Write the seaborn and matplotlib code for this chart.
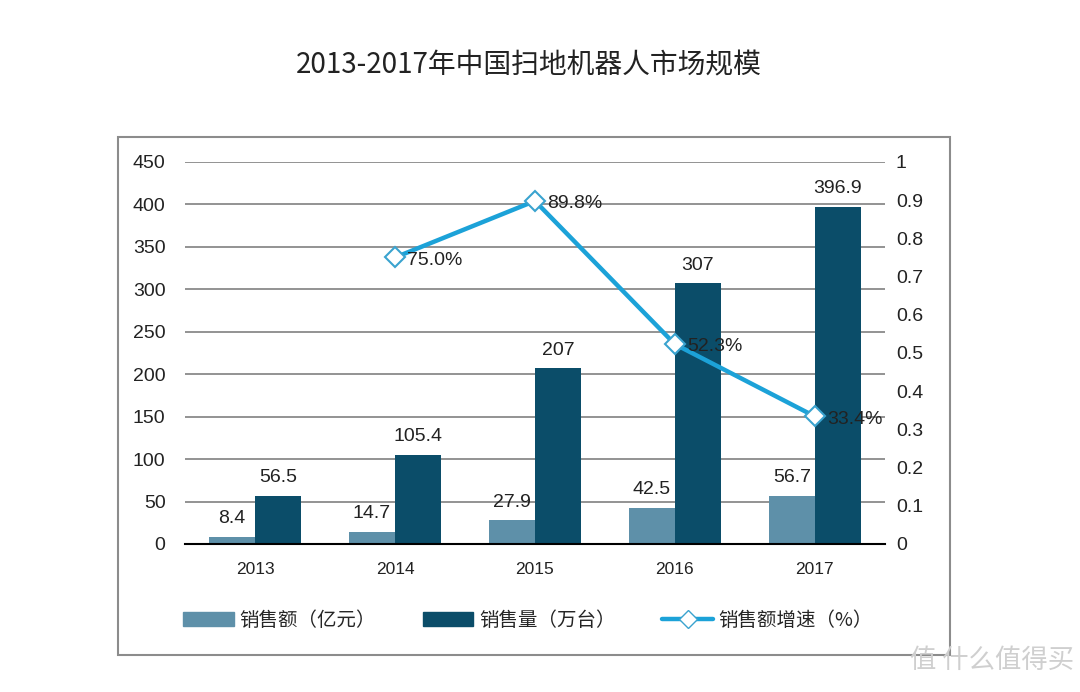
import numpy as np
import pandas as pd
import seaborn as sns
import matplotlib
matplotlib.use('Agg')
import matplotlib.pyplot as plt
from matplotlib.patches import Patch, Rectangle
from matplotlib.lines import Line2D

sns.set_style('white')
plt.rcParams['font.family'] = ['Liberation Sans', 'Noto Sans CJK SC', 'DejaVu Sans']

# data
years = ['2013', '2014', '2015', '2016', '2017']
sales_amount = [8.4, 14.7, 27.9, 42.5, 56.7]       # 销售额（亿元）
sales_volume = [56.5, 105.4, 207, 307, 396.9]      # 销售量（万台）
growth_years = ['2014', '2015', '2016', '2017']
growth_rate = [0.750, 0.898, 0.523, 0.334]         # 销售额增速（%）

series_names = ['销售额（亿元）', '销售量（万台）', '销售额增速（%）']
c_amount = '#5e90a9'
c_volume = '#0b4d69'
c_line = '#1ca2d8'

df = pd.DataFrame({
    'year': years * 2,
    'value': sales_amount + sales_volume,
    'series': [series_names[0]] * len(years) + [series_names[1]] * len(years),
})

fig = plt.figure(figsize=(10.8, 6.92), dpi=100)
ax = fig.add_axes([0.1713, 0.2139, 0.648, 0.552])

sns.barplot(data=df, x='year', y='value', hue='series', palette=[c_amount, c_volume],
            width=0.66, saturation=1, legend=False, linewidth=0, ax=ax)
ax.set_xlim(-0.5, 4.5)
ax.set_ylim(0, 450)
ax.set_yticks(np.arange(0, 451, 50))
ax.set_axisbelow(True)
ax.grid(axis='y', color='#808080', linewidth=1.2)
ax.grid(axis='x', visible=False)
for s in ['left', 'right', 'top']:
    ax.spines[s].set_visible(False)
ax.spines['bottom'].set_color('black')
ax.spines['bottom'].set_linewidth(1.5)
ax.tick_params(axis='y', length=0, pad=14, labelsize=14, labelcolor='#222222')
ax.tick_params(axis='x', length=0, pad=13, labelsize=12.5, labelcolor='#222222')
ax.set_xlabel('')
ax.set_ylabel('')

for cont, vals in zip(ax.containers, [sales_amount, sales_volume]):
    ax.bar_label(cont, labels=['{:g}'.format(v) for v in vals], padding=7,
                 fontsize=14, color='#222222')

ax2 = ax.twinx()
gx = [years.index(y) for y in growth_years]
sns.lineplot(x=gx, y=growth_rate, ax=ax2, color=c_line, linewidth=3.2,
             marker='D', markersize=10, markerfacecolor='white',
             markeredgecolor='#3aa3cf', markeredgewidth=1.5)
ax2.set_ylim(0, 1)
ax2.set_yticks(np.arange(0, 1.01, 0.1))
ax2.set_yticklabels(['0', '0.1', '0.2', '0.3', '0.4', '0.5', '0.6', '0.7', '0.8', '0.9', '1'])
ax2.set_xlim(-0.5, 4.5)
ax2.grid(False)
for s in ['left', 'right', 'top', 'bottom']:
    ax2.spines[s].set_visible(False)
ax2.tick_params(axis='y', length=0, pad=8, labelsize=14, labelcolor='#222222')
for x, v in zip(gx, growth_rate):
    ax2.annotate('{:.1%}'.format(v), (x, v), xytext=(9, -2), textcoords='offset points',
                 ha='left', va='center', fontsize=14, color='#222222')

fig.text(0.49, 0.906, '2013-2017年中国扫地机器人市场规模', ha='center', va='center',
         fontsize=20, color='#222222', family=['Noto Sans CJK SC', 'DejaVu Sans'])

handles = [Patch(color=c_amount), Patch(color=c_volume),
           Line2D([], [], color=c_line, linewidth=3.2, marker='D', markersize=9,
                  markerfacecolor='white', markeredgecolor='#3aa3cf')]
fig.legend(handles, series_names, loc='center', bbox_to_anchor=(0.489, 0.104), ncol=3,
           frameon=False, handlelength=2.6, handletextpad=0.3,
           columnspacing=2.4, prop={'family': ['Noto Sans CJK SC', 'DejaVu Sans'], 'size': 14})

fig.patches.append(Rectangle((0.1093, 0.0535), 0.7704, 0.7486, transform=fig.transFigure,
                             fill=False, edgecolor='#8c8c8c', linewidth=1.5))

fig.text(0.995, 0.045, '值 什么值得买', ha='right', va='center', fontsize=19,
         color='#cfcfcf', family=['Noto Sans CJK SC', 'DejaVu Sans'])

fig.savefig('out.png', dpi=100)
